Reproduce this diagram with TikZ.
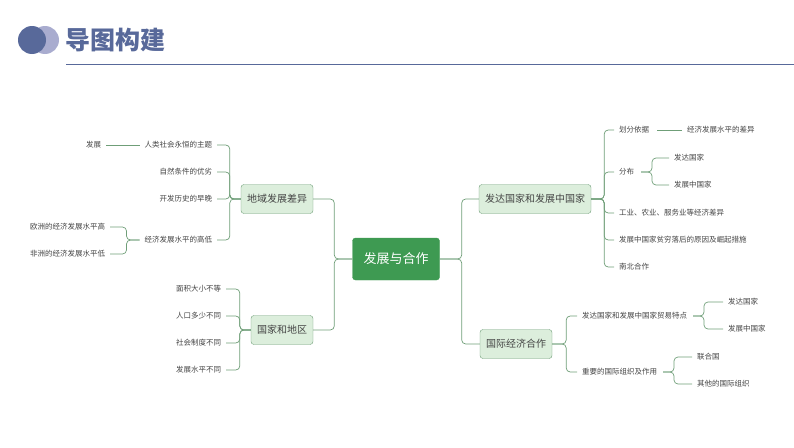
\documentclass[tikz,border=0pt]{standalone}
\usepackage{fontspec}
\setmainfont{Noto Sans CJK SC}
\usepackage{tikz}

\definecolor{titleblue}{HTML}{58699A}
\definecolor{titlelight}{HTML}{A9ACCF}
\definecolor{rootgreen}{HTML}{3E9A52}
\definecolor{boxfill}{HTML}{DCEEDC}
\definecolor{linegreen}{HTML}{6F9E78}
\definecolor{leafgray}{HTML}{444444}

\tikzset{
  mainbox/.style={draw=rootgreen, fill=rootgreen, rounded corners=3pt, text=white,
    minimum width=87pt, minimum height=42pt, font=\fontsize{13}{13}\selectfont},
  subbox/.style={draw=linegreen, fill=boxfill, rounded corners=3pt, text=leafgray,
    minimum height=29pt, inner xsep=6pt, font=\fontsize{10}{10}\selectfont},
  leaf/.style={text=leafgray, inner sep=1pt, outer xsep=4pt, font=\fontsize{7.5}{7.5}\selectfont},
  link/.style={draw=linegreen, line width=0.7pt, rounded corners=4pt},
}

\begin{document}
\begin{tikzpicture}[x=1pt, y=-1pt]
\useasboundingbox (0,0) rectangle (794,447);

% ======================
% Title
% ======================
\fill[titlelight] (45,40) circle (14);
\fill[titleblue] (32,40) circle (14);
\node[anchor=west, text=titleblue, font=\fontsize{25}{25}\bfseries\selectfont] (title) at (62,40) {导图构建};
\draw[titleblue, line width=0.8pt] (66,64) -- (794,64);

% ======================
% Root and branches
% ======================
\node[mainbox] (root) at (396,259) {发展与合作};

\node[subbox] (diyu) at (277,199) {地域发展差异};
\node[subbox] (guojia) at (282,330) {国家和地区};
\node[subbox] (fada) at (535,199) {发达国家和发展中国家};
\node[subbox] (guoji) at (516,344) {国际经济合作};

\foreach \b in {diyu, guojia}
  \draw[link] (root.west) -- ++(-18,0) |- (\b.east);
\foreach \b in {fada, guoji}
  \draw[link] (root.east) -- ++(22,0) |- (\b.west);

% ======================
% Left: 地域发展差异
% ======================
\node[leaf, anchor=east] (d1) at (217,145) {人类社会永恒的主题};
\node[leaf, anchor=east] (d2) at (217,172) {自然条件的优劣};
\node[leaf, anchor=east] (d3) at (217,199) {开发历史的早晚};
\node[leaf, anchor=east] (d4) at (217,240) {经济发展水平的高低};
\foreach \c in {d1, d2, d3, d4}
  \draw[link] (diyu.west) -- ++(-11,0) |- (\c.east);

\node[leaf, anchor=east] (fazhan) at (106,145) {发展};
\draw[link] (d1.west) -- (fazhan.east);

\node[leaf, anchor=east] (ouzhou) at (110,227) {欧洲的经济发展水平高};
\node[leaf, anchor=east] (feizhou) at (110,254) {非洲的经济发展水平低};
\foreach \c in {ouzhou, feizhou}
  \draw[link] (d4.west) -- ++(-13,0) |- (\c.east);

% ======================
% Left: 国家和地区
% ======================
\node[leaf, anchor=east] (g1) at (226,289) {面积大小不等};
\node[leaf, anchor=east] (g2) at (226,316) {人口多少不同};
\node[leaf, anchor=east] (g3) at (226,343) {社会制度不同};
\node[leaf, anchor=east] (g4) at (226,370) {发展水平不同};
\foreach \c in {g1, g2, g3, g4}
  \draw[link] (guojia.west) -- ++(-11,0) |- (\c.east);

% ======================
% Right: 发达国家和发展中国家
% ======================
\node[leaf, anchor=west] (f1) at (614,130) {划分依据};
\node[leaf, anchor=west] (f2) at (614,172) {分布};
\node[leaf, anchor=west] (f3) at (614,213) {工业、农业、服务业等经济差异};
\node[leaf, anchor=west] (f4) at (614,240) {发展中国家贫穷落后的原因及崛起措施};
\node[leaf, anchor=west] (f5) at (614,267) {南北合作};
\foreach \c in {f1, f2, f3, f4, f5}
  \draw[link] (fada.east) -- ++(13,0) |- (\c.west);

\node[leaf, anchor=west] (yiju) at (682,130) {经济发展水平的差异};
\draw[link] (f1.east) ++(3,0) -- (yiju.west);

\node[leaf, anchor=west] (fb1) at (669,158) {发达国家};
\node[leaf, anchor=west] (fb2) at (669,185) {发展中国家};
\foreach \c in {fb1, fb2}
  \draw[link] (f2.east) ++(2,0) -- ++(11,0) |- (\c.west);

% ======================
% Right: 国际经济合作
% ======================
\node[leaf, anchor=west] (j1) at (577,316) {发达国家和发展中国家贸易特点};
\node[leaf, anchor=west] (j2) at (577,372) {重要的国际组织及作用};
\foreach \c in {j1, j2}
  \draw[link] (guoji.east) -- ++(14,0) |- (\c.west);

\node[leaf, anchor=west] (m1) at (723,302) {发达国家};
\node[leaf, anchor=west] (m2) at (723,329) {发展中国家};
\foreach \c in {m1, m2}
  \draw[link] (j1.east) ++(1,0) -- ++(11,0) |- (\c.west);

\node[leaf, anchor=west] (o1) at (692,357) {联合国};
\node[leaf, anchor=west] (o2) at (692,384) {其他的国际组织};
\foreach \c in {o1, o2}
  \draw[link] (j2.east) ++(1,0) -- ++(11,0) |- (\c.west);

\end{tikzpicture}
\end{document}
